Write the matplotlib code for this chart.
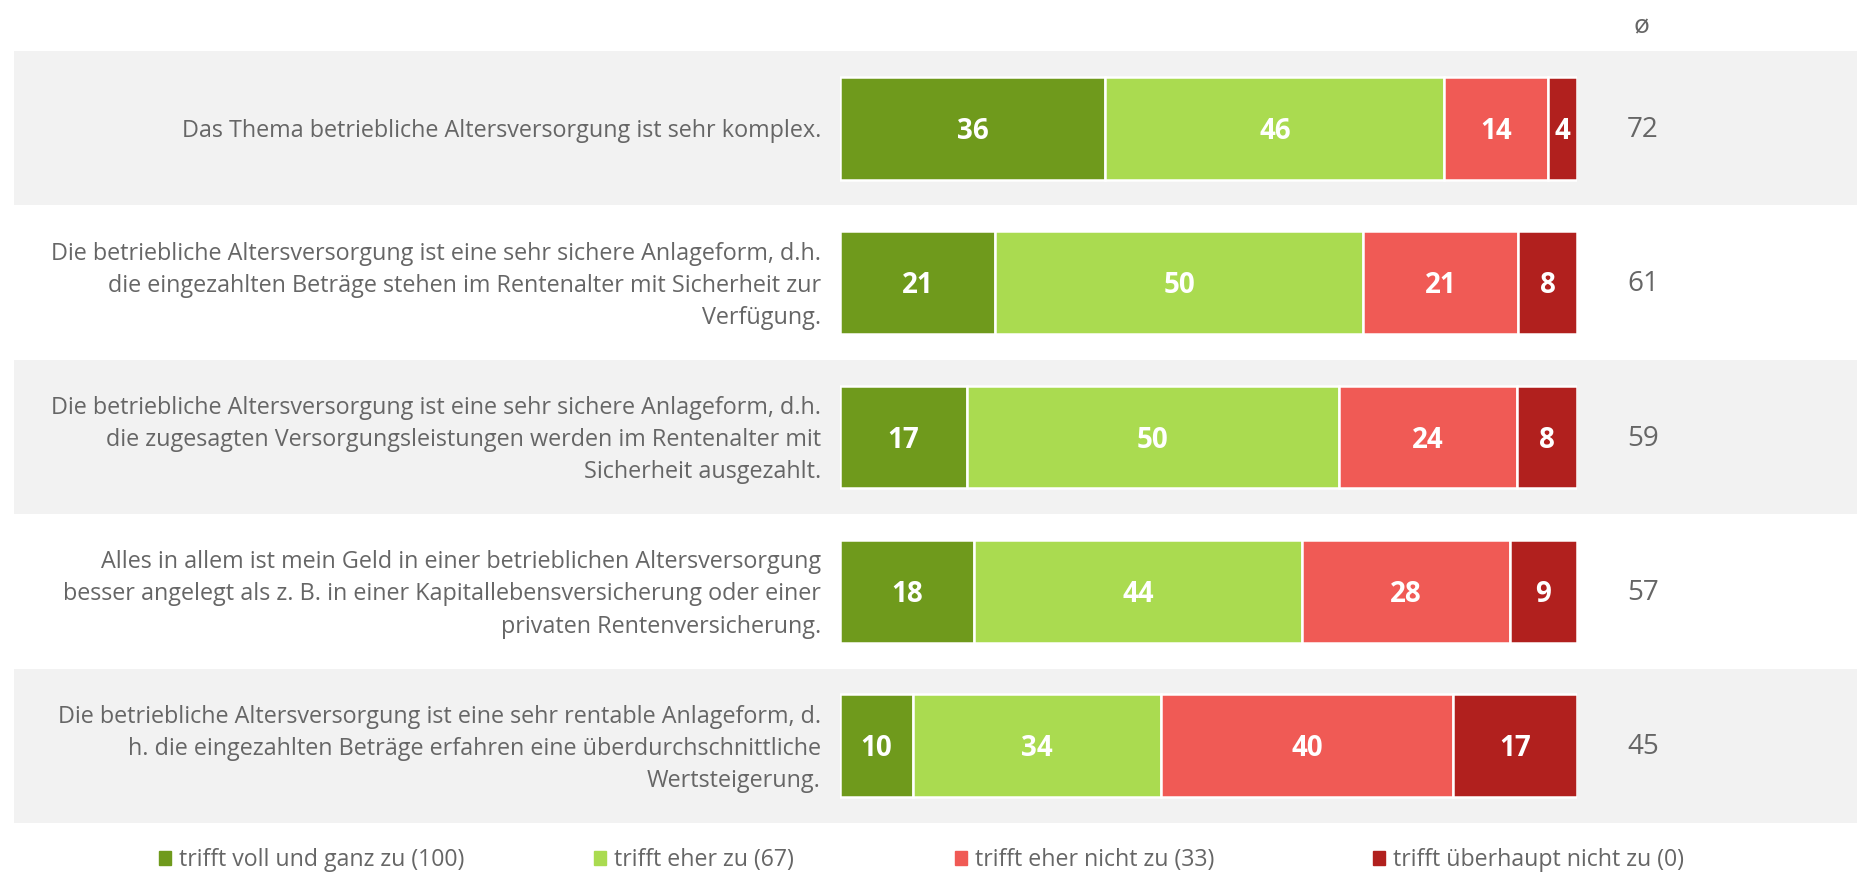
import matplotlib.pyplot as plt
import matplotlib.patches as mpatches
import numpy as np

plt.rcParams['font.family'] = ['Open Sans', 'DejaVu Sans']

statements = [
    "Das Thema betriebliche Altersversorgung ist sehr komplex.",
    "Die betriebliche Altersversorgung ist eine sehr sichere Anlageform, d.h.\n"
    "die eingezahlten Beträge stehen im Rentenalter mit Sicherheit zur\nVerfügung.",
    "Die betriebliche Altersversorgung ist eine sehr sichere Anlageform, d.h.\n"
    "die zugesagten Versorgungsleistungen werden im Rentenalter mit\nSicherheit ausgezahlt.",
    "Alles in allem ist mein Geld in einer betrieblichen Altersversorgung\n"
    "besser angelegt als z. B. in einer Kapitallebensversicherung oder einer\nprivaten Rentenversicherung.",
    "Die betriebliche Altersversorgung ist eine sehr rentable Anlageform, d.\n"
    "h. die eingezahlten Beträge erfahren eine überdurchschnittliche\nWertsteigerung.",
]
categories = ["trifft voll und ganz zu (100)", "trifft eher zu (67)",
              "trifft eher nicht zu (33)", "trifft überhaupt nicht zu (0)"]
voll = [36, 21, 17, 18, 10]
eher = [46, 50, 50, 44, 34]
eher_nicht = [14, 21, 24, 28, 40]
gar_nicht = [4, 8, 8, 9, 17]
averages = [72, 61, 59, 57, 45]

colors = ['#6F9A1C', '#AADB50', '#F05A55', '#B1201E']
text_color = '#666666'

W, H = 1858, 873
fig = plt.figure(figsize=(W / 100, H / 100), dpi=100)

# row area in pixels (top 51 .. bottom 823)
top, bottom = 51, 823
y0 = 1 - bottom / H
h = (bottom - top) / H
n = len(statements)

bg = fig.add_axes([0, y0, 1, h])
bg.set_xlim(0, 1)
bg.set_ylim(n - 0.5, -0.5)
bg.axis('off')
for i in range(n):
    if i % 2 == 0:
        bg.axhspan(i - 0.5, i + 0.5, xmin=14 / W, xmax=1, color='#F2F2F2', lw=0)
    bg.text(821 / W, i + 0.02, statements[i], ha='right', va='center', multialignment='right',
            fontsize=16.8, color=text_color, linespacing=1.45)
    bg.text(1643 / W, i + 0.01, str(averages[i]), ha='center', va='center',
            fontsize=20, color=text_color)
fig.text(1641 / W, 1 - 27 / H, 'ø', ha='center', va='center', fontsize=19, color=text_color)

ax = fig.add_axes([840 / W, y0, (1577 - 840) / W, h])
ax.set_xlim(0, 1)
ax.set_ylim(n - 0.5, -0.5)
ax.axis('off')

data = np.array([voll, eher, eher_nicht, gar_nicht], dtype=float)
totals = data.sum(axis=0)
left = np.zeros(n)
for k in range(4):
    w = data[k] / totals
    ax.barh(range(n), w, left=left, height=0.667, color=colors[k],
            edgecolor='white', linewidth=1.8)
    for i in range(n):
        ax.text(left[i] + w[i] / 2, i + 0.02, f'{int(data[k][i])}', ha='center', va='center',
                fontsize=20, fontweight='bold', color='white')
    left = left + w

legend_x = [147, 582, 943, 1361]
for k in range(4):
    handle = mpatches.Patch(color=colors[k])
    fig.legend(handles=[handle], labels=[categories[k]], loc='center left',
               bbox_to_anchor=(legend_x[k] / W, 1 - 860 / H), frameon=False,
               fontsize=16.7, handlelength=0.55, handleheight=0.55, handletextpad=0.35,
               borderpad=0, labelcolor=text_color)

fig.savefig('out.png', dpi=100)
